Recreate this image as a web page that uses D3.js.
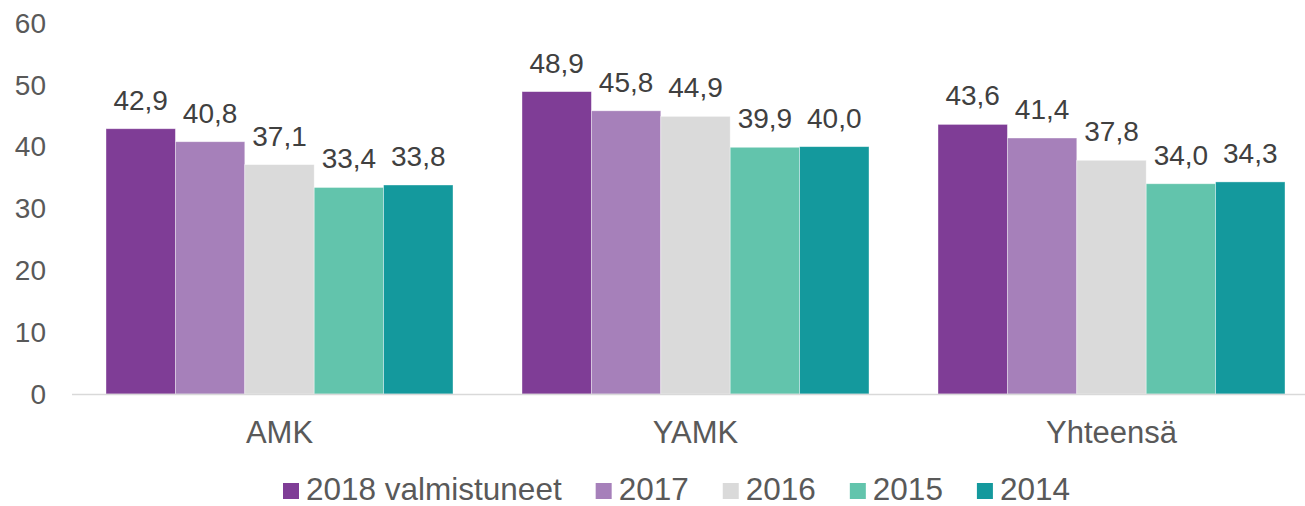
<!DOCTYPE html>
<meta charset="utf-8" />
<script src="https://d3js.org/d3.v7.min.js"></script>
<style>
  body { margin: 0; background: #fff; }
  text { font-family: "Liberation Sans", Arial, sans-serif; }
</style>
<body>
  <div id="chart"></div>
  <script>
    // data
    var categories = ["AMK", "YAMK", "Yhteensä"];
    var series = ["2018 valmistuneet", "2017", "2016", "2015", "2014"];
    var values2018 = [42.9, 48.9, 43.6];
    var values2017 = [40.8, 45.8, 41.4];
    var values2016 = [37.1, 44.9, 37.8];
    var values2015 = [33.4, 39.9, 34.0];
    var values2014 = [33.8, 40.0, 34.3];
    var yTicks = [0, 10, 20, 30, 40, 50, 60];
    var colors = ["#7f3d96", "#a680ba", "#dadada", "#62c4ac", "#14999d"];

    var width = 1305,
      height = 506;
    var allValues = [values2018, values2017, values2016, values2015, values2014];

    var svg = d3
      .select("#chart")
      .append("svg")
      .attr("width", width)
      .attr("height", height);

    // outer band for the groups, inner band for the years
    var p = 69 / 416;
    var x0 = d3
      .scaleBand()
      .domain(categories)
      .range([71.5, 1319.5])
      .paddingInner(p)
      .paddingOuter(p / 2);
    var x1 = d3.scaleBand().domain(series).range([0, x0.bandwidth()]);
    var y = d3.scaleLinear().domain([0, 60]).range([394, 23]);

    // y tick labels, no axis line
    svg
      .append("g")
      .selectAll("text")
      .data(yTicks)
      .enter()
      .append("text")
      .attr("x", 46)
      .attr("y", (d) => y(d))
      .attr("dy", "0.35em")
      .attr("text-anchor", "end")
      .attr("fill", "#595959")
      .style("font-size", "28px")
      .text((d) => d);

    var rows = [];
    categories.forEach(function (c, i) {
      series.forEach(function (s, j) {
        rows.push({ cat: c, key: s, idx: j, value: allValues[j][i] });
      });
    });

    svg
      .append("g")
      .selectAll("rect")
      .data(rows)
      .enter()
      .append("rect")
      .attr("x", (d) => x0(d.cat) + x1(d.key))
      .attr("y", (d) => y(d.value))
      .attr("width", x1.bandwidth())
      .attr("height", (d) => y(0) - y(d.value))
      .attr("fill", (d) => colors[d.idx])
      .attr("stroke", "#fff")
      .attr("stroke-opacity", 0.5)
      .attr("stroke-width", 0.75);

    // x axis line
    svg
      .append("line")
      .attr("x1", 72)
      .attr("x2", 1319)
      .attr("y1", y(0) + 0.5)
      .attr("y2", y(0) + 0.5)
      .attr("stroke", "#d9d9d9")
      .attr("stroke-width", 1.5);

    // value labels
    svg
      .append("g")
      .selectAll("text")
      .data(rows)
      .enter()
      .append("text")
      .attr("x", (d) => x0(d.cat) + x1(d.key) + x1.bandwidth() / 2)
      .attr("y", (d) => y(d.value) - 19)
      .attr("text-anchor", "middle")
      .attr("fill", "#404040")
      .style("font-size", "28px")
      .text((d) => d3.format(".1f")(d.value).replace(".", ","));

    // category labels
    svg
      .append("g")
      .selectAll("text")
      .data(categories)
      .enter()
      .append("text")
      .attr("x", (d) => x0(d) + x0.bandwidth() / 2)
      .attr("y", 443)
      .attr("text-anchor", "middle")
      .attr("fill", "#595959")
      .style("font-size", "31px")
      .text((d) => d);

    // legend, laid out one after another
    var legend = svg.append("g");
    var lx = 283;
    series.forEach(function (s, j) {
      legend
        .append("rect")
        .attr("x", lx)
        .attr("y", 483)
        .attr("width", 16)
        .attr("height", 16)
        .attr("fill", colors[j]);
      var t = legend
        .append("text")
        .attr("x", lx + 23)
        .attr("y", 500)
        .attr("fill", "#595959")
        .style("font-size", "31.5px")
        .text(s);
      lx += 23 + t.node().getComputedTextLength() + 34;
    });
  </script>
</body>
